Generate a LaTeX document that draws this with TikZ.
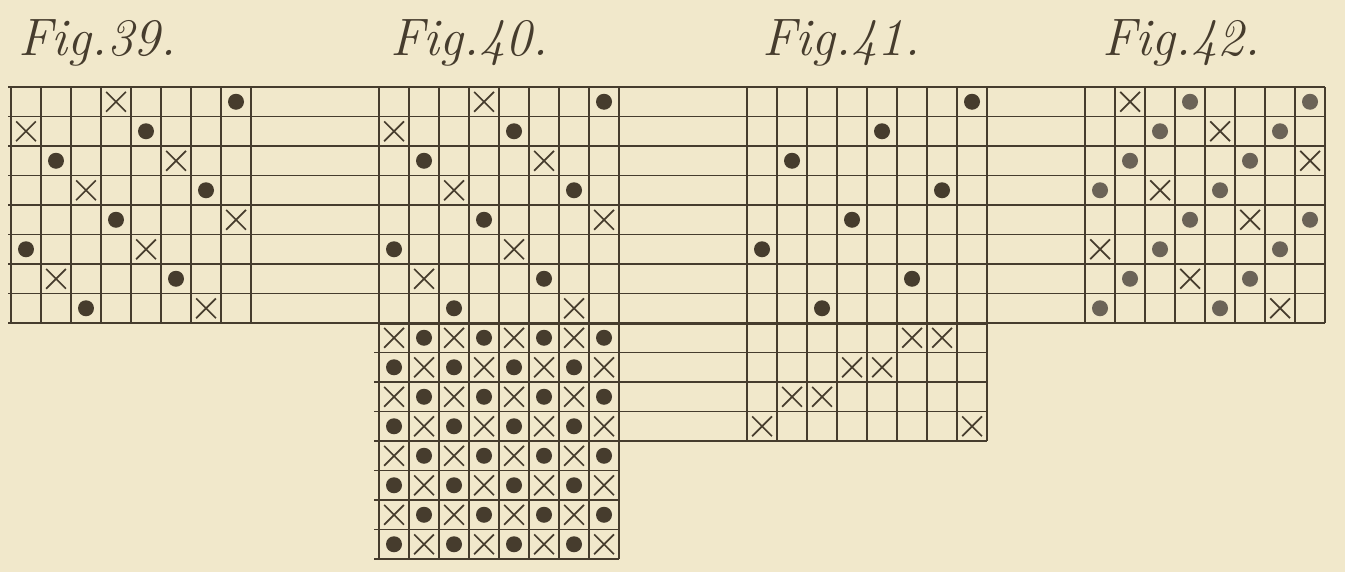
\documentclass[tikz,border=0pt]{standalone}
\usepackage{tikz}
\usetikzlibrary{shapes.misc}
\definecolor{paper}{RGB}{241,232,203}
\definecolor{ink}{RGB}{70,60,45}

\begin{document}
\begin{tikzpicture}[x=0.02cm,y=-0.02cm,
  rule/.style={draw=ink,line width=1.1pt},
  xmark/.style={cross out,draw=ink,line width=1pt,minimum size=0.36cm,inner sep=0pt},
  dotmark/.style={circle,fill=ink,minimum size=0.32cm,inner sep=0pt},
  figlabel/.style={font=\fontsize{30}{34}\selectfont\itshape,text=ink,anchor=base west,inner sep=0pt}]
\fill[paper] (0,0) rectangle (1345,572);
\useasboundingbox (0,0) rectangle (1345,572);
% titles
\node[figlabel] (t39) at (18,55) {Fig.39.};
\node[figlabel] (t40) at (390,55) {Fig.40.};
\node[figlabel] (t41) at (762,55) {Fig.41.};
\node[figlabel] (t42) at (1102,55) {Fig.42.};
% rules running through all four figures
\foreach \k in {0,...,8}
  \draw[rule] (8,{87+29.5*\k}) -- (1325,{87+29.5*\k});
\draw[rule,line width=1.7pt] (379,323) -- (987,323);
\foreach \g in {11,379,747,1085}
  \foreach \c in {0,...,8}
    \draw[rule] ({\g+30*\c},87) -- ({\g+30*\c},323);
% the grids below Fig. 40 and Fig. 41
\foreach \k in {1,...,4}
  \draw[rule] (374,{323+29.5*\k}) -- (987,{323+29.5*\k});
\foreach \k in {5,...,8}
  \draw[rule] (374,{323+29.5*\k}) -- (619,{323+29.5*\k});
\foreach \c in {0,...,8} {
  \draw[rule] ({379+30*\c},323) -- ({379+30*\c},559);
  \draw[rule] ({747+30*\c},323) -- ({747+30*\c},441);
}
% Fig. 39, Fig. 40 and Fig. 41 above
\foreach \r/\a/\b in {1/4/8,2/1/5,3/6/2,4/3/7,5/8/4,6/5/1,7/2/6,8/7/3} {
  \foreach \g in {11,379} {
    \node[xmark] (x\g-\r) at ({\g+30*\a-15},{72.25+29.5*\r}) {};
    \node[dotmark] (d\g-\r) at ({\g+30*\b-15},{72.25+29.5*\r}) {};
  }
  \node[dotmark] (d747-\r) at ({747+30*\b-15},{72.25+29.5*\r}) {};
}
% Fig. 40 below
\foreach \r in {1,...,8}
  \foreach \c in {1,...,8} {
    \pgfmathtruncatemacro\odd{mod(\r+\c,2)}
    \ifnum\odd=0
      \node[xmark] (lo40-\r-\c) at ({379+30*\c-15},{308.25+29.5*\r}) {};
    \else
      \node[dotmark] (lo40-\r-\c) at ({379+30*\c-15},{308.25+29.5*\r}) {};
    \fi
  }
% Fig. 41 below
\foreach \r/\a/\b in {1/6/7,2/4/5,3/2/3,4/1/8} {
  \node[xmark] (lo41a-\r) at ({747+30*\a-15},{308.25+29.5*\r}) {};
  \node[xmark] (lo41b-\r) at ({747+30*\b-15},{308.25+29.5*\r}) {};
}
% Fig. 42
\foreach \r/\a/\b/\cx in {1/4/8/2,2/3/7/5,3/2/6/8,4/1/5/3,5/4/8/6,6/3/7/1,7/2/6/4,8/1/5/7} {
  \node[dotmark,fill=ink!80] (da42-\r) at ({1085+30*\a-15},{72.25+29.5*\r}) {};
  \node[dotmark,fill=ink!80] (db42-\r) at ({1085+30*\b-15},{72.25+29.5*\r}) {};
  \node[xmark] (x42-\r) at ({1085+30*\cx-15},{72.25+29.5*\r}) {};
}
\end{tikzpicture}
\end{document}
